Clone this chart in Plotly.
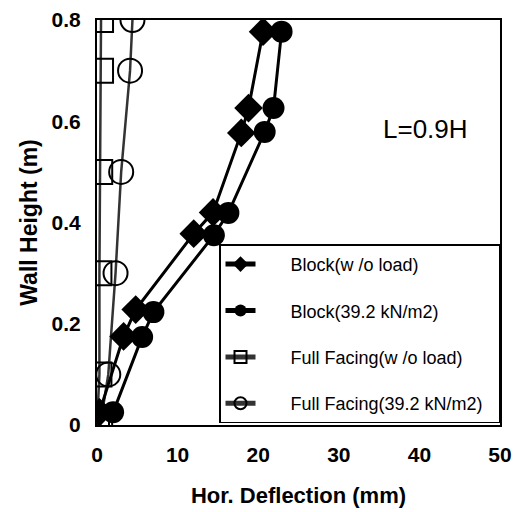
import plotly.graph_objects as go

# Block (w/o load)
blk_x = [0.3, 3.3, 4.8, 12.0, 14.4, 17.9, 18.8, 20.6]
blk_y = [0.025, 0.175, 0.228, 0.378, 0.42, 0.577, 0.626, 0.777]
# Block (39.2 kN/m2)
blkl_x = [2.0, 5.6, 7.0, 14.5, 16.3, 20.8, 21.9, 22.9]
blkl_y = [0.025, 0.174, 0.223, 0.375, 0.419, 0.579, 0.626, 0.777]
# Full Facing (w/o load)
ff_x = [0.0, 0.3, 0.3, 0.4, 0.5, 0.5]
ff_y = [0.0, 0.1, 0.3, 0.5, 0.7, 0.8]
# Full Facing (39.2 kN/m2)
ffl_x = [0.4, 1.4, 2.3, 3.0, 4.1, 4.4]
ffl_y = [0.0, 0.1, 0.3, 0.5, 0.7, 0.8]

names = ["Block(w /o load)", "Block(39.2 kN/m2)", "Full Facing(w /o load)", "Full Facing(39.2 kN/m2)"]
pad_l = "\u00a0" * 6
pad_r = "\u00a0" * 2

fig = go.Figure()
fig.add_trace(go.Scatter(x=ff_x, y=ff_y, name=pad_l + names[2] + pad_r, mode="lines+markers", legendrank=3,
                         legendgroup="c", line=dict(color="#333", width=2.5),
                         marker=dict(symbol="square-open", size=24, color="black", line=dict(width=2))))
fig.add_trace(go.Scatter(x=ffl_x, y=ffl_y, name=pad_l + names[3] + pad_r, mode="lines+markers", legendrank=4,
                         legendgroup="d", line=dict(color="#333", width=2.5),
                         marker=dict(symbol="circle-open", size=24, color="black", line=dict(width=2))))
fig.add_trace(go.Scatter(x=blk_x, y=blk_y, name=pad_l + names[0] + pad_r, mode="lines+markers", legendrank=1,
                         legendgroup="a", line=dict(color="black", width=3),
                         marker=dict(symbol="diamond", size=22, color="black")))
fig.add_trace(go.Scatter(x=blkl_x, y=blkl_y, name=pad_l + names[1] + pad_r, mode="lines+markers", legendrank=2,
                         legendgroup="b", line=dict(color="black", width=3),
                         marker=dict(symbol="circle", size=22, color="black")))

fig.add_annotation(x=40.75, y=0.585, text="L=0.9H", showarrow=False,
                   font=dict(family="Liberation Sans, Arial", size=26, color="black"))

axis_common = dict(showline=True, linecolor="black", linewidth=2, mirror=True, showgrid=False,
                   zeroline=False, ticks="", automargin=False,
                   tickfont=dict(family="Liberation Sans, Arial", size=21, color="black", weight="bold"))
fig.update_xaxes(range=[0, 50], tickvals=[0, 10, 20, 30, 40, 50], ticktext=["0", "10", "20", "30", "40", "50"],
                 title=dict(text="Hor. Deflection (mm)", font=dict(family="Liberation Sans, Arial", size=22,
                                                                 color="black", weight="bold"), standoff=22),
                 ticklabelstandoff=10, **axis_common)
fig.update_yaxes(range=[0, 0.8], tickvals=[0, 0.2, 0.4, 0.6, 0.8], ticktext=["0", "0.2", "0.4", "0.6", "0.8"],
                 title=dict(text="Wall Height (m)", font=dict(family="Liberation Sans, Arial", size=23,
                                                            color="black", weight="bold"), standoff=8),
                 ticklabelstandoff=10, **axis_common)

fig.update_layout(
    width=520, height=512,
    margin=dict(l=89, r=28, t=12, b=95),
    plot_bgcolor="white", paper_bgcolor="white",
    legend=dict(x=1, y=0.004, xanchor="right", yanchor="bottom", bordercolor="black", borderwidth=1.5,
                bgcolor="white", font=dict(family="Liberation Sans, Arial", size=18, color="black"),
                itemsizing="constant", tracegroupgap=20, traceorder="grouped"),
    showlegend=True,
)
fig.write_html("out.html")
